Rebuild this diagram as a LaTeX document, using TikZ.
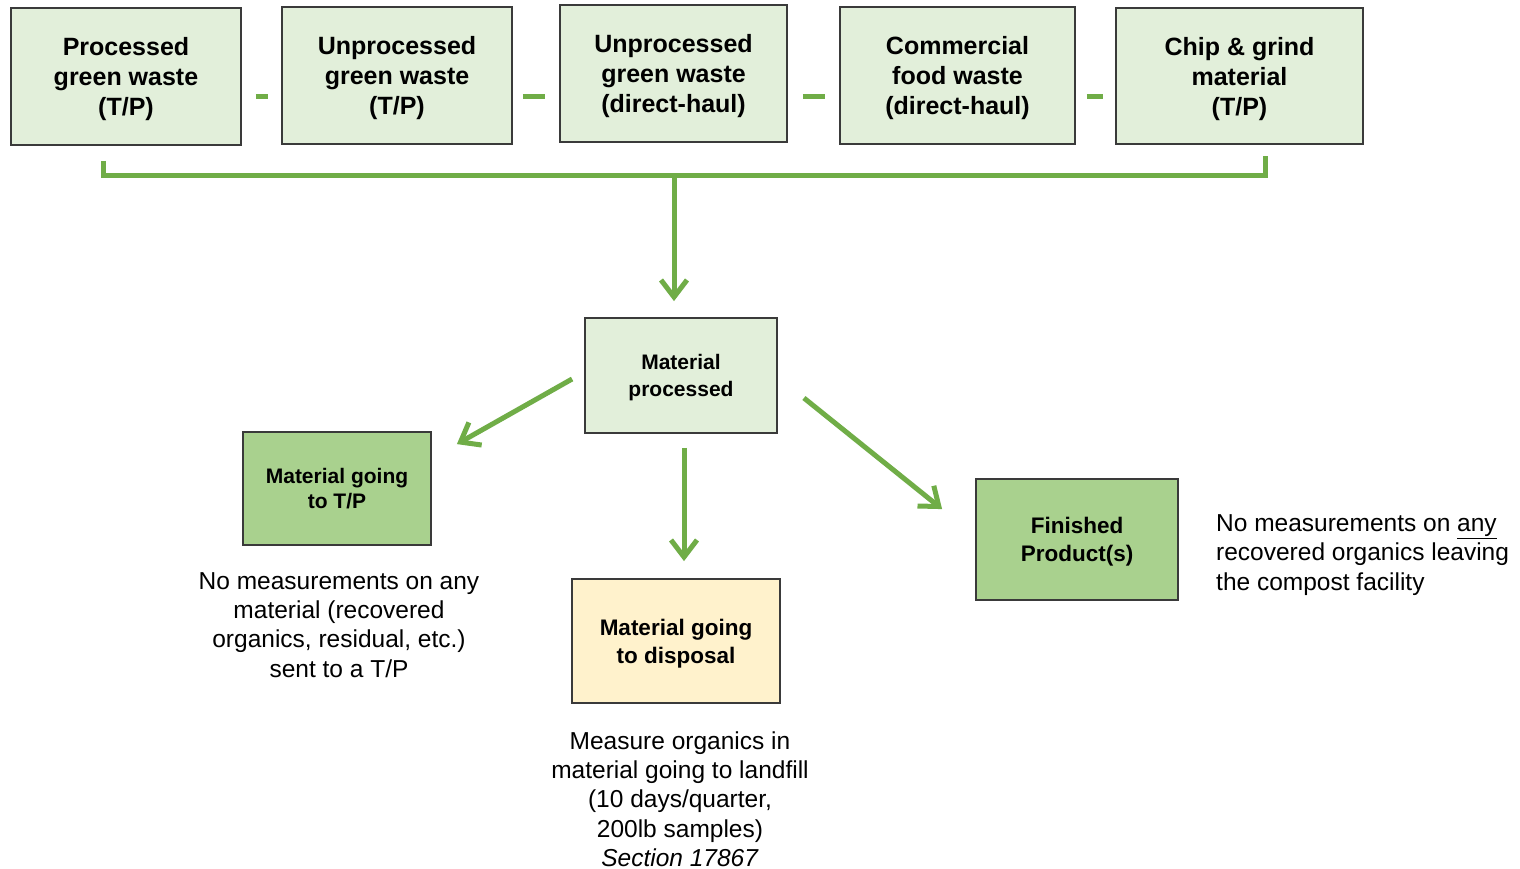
\documentclass[tikz,border=0pt]{standalone}
\usepackage{fontspec}
\setmainfont{Liberation Sans}
\usetikzlibrary{arrows.meta,calc}
\definecolor{grn}{HTML}{70AD47}
\definecolor{lgfill}{HTML}{E2EFDA}
\definecolor{mgfill}{HTML}{A9D18E}
\definecolor{yfill}{HTML}{FFF2CC}
\definecolor{bord}{HTML}{3A3A3A}
\begin{document}
\begin{tikzpicture}[x=1pt,y=-1pt,
 box/.style={draw=bord,line width=1.8pt,inner sep=0pt,align=center},
 topbox/.style={box,fill=lgfill,text depth=-0.5pt,font=\fontsize{25}{30}\selectfont\bfseries},
 gline/.style={draw=grn,line width=5pt},
 arr/.style={gline,-{Straight Barb[length=17pt,width=26pt]}},
 note/.style={inner sep=0pt,font=\fontsize{24.5}{29.3}\selectfont}]
\useasboundingbox[fill=white] (0,0) rectangle (1520,869);

% top boxes
\node[topbox,minimum width=230pt,minimum height=137pt] (b1) at (126,76.5) {Processed\\green waste\\(T/P)};
\node[topbox,minimum width=230pt,minimum height=137pt] (b2) at (397,75.5) {Unprocessed\\green waste\\(T/P)};
\node[topbox,minimum width=227pt,minimum height=137pt] (b3) at (673.5,73.5) {Unprocessed\\green waste\\(direct-haul)};
\node[topbox,minimum width=235pt,minimum height=137pt] (b4) at (957.5,75.5) {Commercial\\food waste\\(direct-haul)};
\node[topbox,minimum width=247pt,minimum height=136pt] (b5) at (1239.5,76) {Chip \& grind\\material\\(T/P)};

% dashes between top boxes
\draw[gline] ($(b1.east)+(14,20.5)$) -- ($(b2.west)+(-13,21.5)$);
\draw[gline] ($(b2.east)+(10,21.5)$) -- ($(b3.west)+(-14,23.5)$);
\draw[gline] ($(b3.east)+(15,23.5)$) -- ($(b4.west)+(-14,21.5)$);
\draw[gline] ($(b4.east)+(11,21.5)$) -- ($(b5.west)+(-12,21)$);

% middle box
\node[box,fill=lgfill,minimum width=192pt,minimum height=115pt,text depth=0pt,font=\fontsize{21}{27}\selectfont\bfseries] (mp) at (681,375.5) {Material\\processed};

% bracket
\coordinate (join) at (674,175);
\draw[gline] ($(b1.south)+(-23,15)$) -- ++(0,15) -| ($(b5.south)+(25.5,11)$);
\draw[arr] (join) -- ($(mp.north)+(-7,-16)$);

% outputs
\node[box,fill=mgfill,minimum width=188pt,minimum height=113pt,font=\fontsize{21}{24.5}\selectfont\bfseries] (tp) at (337,488.5) {Material going\\to T/P};
\node[box,fill=yfill,minimum width=208pt,minimum height=124pt,text depth=-3.5pt,font=\fontsize{22.5}{28}\selectfont\bfseries] (disp) at (676,641) {Material going\\to disposal};
\node[box,fill=mgfill,minimum width=202pt,minimum height=121pt,text depth=-1pt,font=\fontsize{22.5}{28}\selectfont\bfseries] (fin) at (1077,539.5) {Finished\\Product(s)};

\draw[arr] ($(mp.west)+(-12,3.5)$) -- ($(tp.north east)+(25,13)$);
\draw[arr] ($(mp.south)+(3,14)$) -- ($(disp.north)+(8,-17)$);
\draw[arr] ($(mp.east)+(26,22.5)$) -- ($(fin.north west)+(-33,31)$);

% notes
\node[note,align=center] (n1) at (339,625) {No measurements on any\\material (recovered\\organics, residual, etc.)\\sent to a T/P};
\node[note,align=center] (n2) at (680,799) {Measure organics in\\material going to landfill\\(10 days/quarter,\\200lb samples)\\\textit{Section 17867}};
\node[note,align=left,anchor=west] (n3) at (1216,555) {No measurements on \underline{any}\\recovered organics leaving\\the compost facility};
\end{tikzpicture}
\end{document}
